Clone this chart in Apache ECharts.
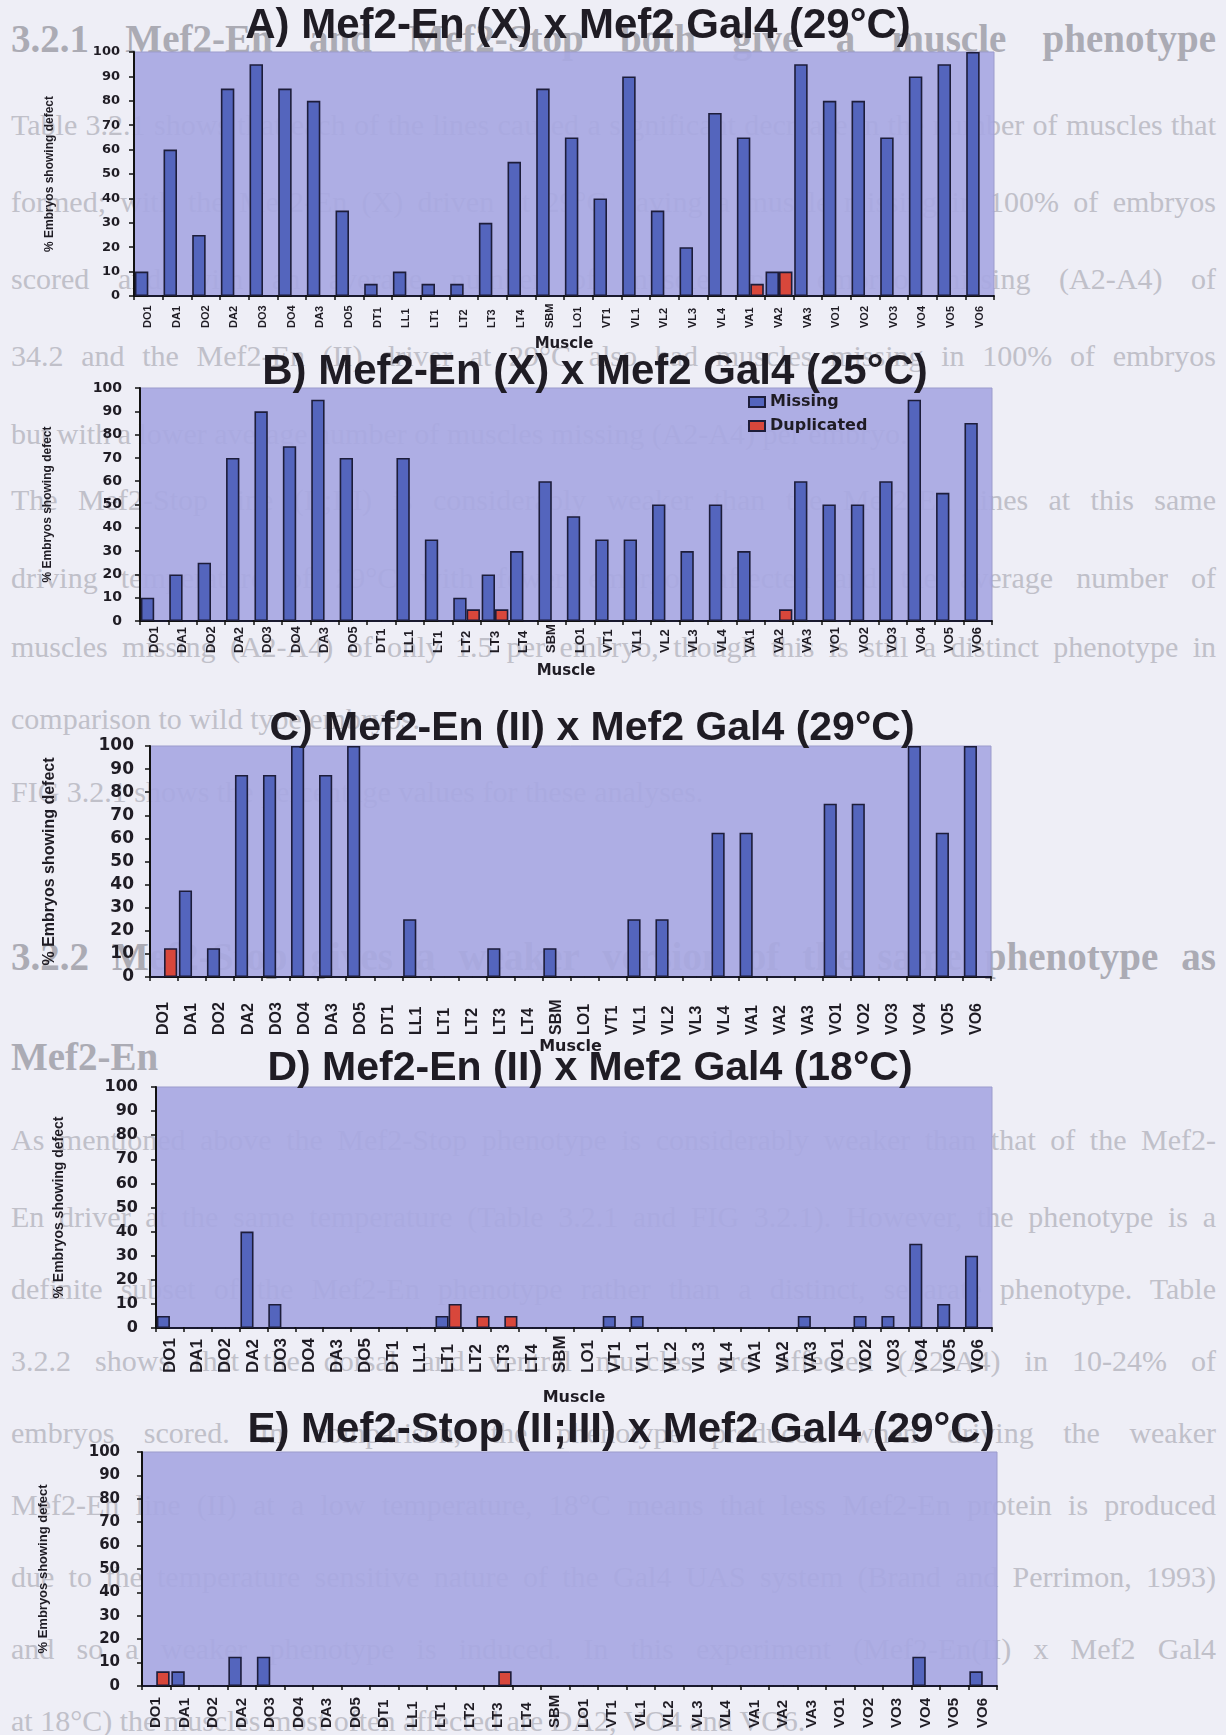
<!DOCTYPE html>
<html>
<head>
<meta charset="utf-8">
<script src="https://cdn.jsdelivr.net/npm/echarts@6/dist/echarts.min.js"></script>
<style>
  html, body { margin: 0; padding: 0; background: #eeeef6; }
  #sheet { position: relative; width: 1226px; height: 1735px; overflow: hidden; }
  #prose { position: absolute; left: 0; top: 0; width: 1226px; height: 1735px; z-index: 0; }
  #prose .ln {
    position: absolute; left: 11px; width: 1205px; height: 36px; line-height: 36px;
    font-family: 'Liberation Serif', 'Times New Roman', serif; font-size: 30px; color: #c0c0c9;
    text-align: left; white-space: nowrap;
  }
  #prose .ln.head { font-weight: bold; font-size: 39px; height: 46px; line-height: 46px; color: #ababb4; }
  #prose .ln span { white-space: nowrap; }
  #page { position: absolute; left: 0; top: 0; width: 1226px; height: 1735px; z-index: 1; }
</style>
</head>
<body>
<div id="sheet">
  <div id="prose"></div>
  <div id="page"></div>
</div>
<script>
// Muscles scored along the x axis of every panel
const muscles = ['DO1','DA1','DO2','DA2','DO3','DO4','DA3','DO5','DT1','LL1','LT1','LT2','LT3','LT4','SBM',
                 'LO1','VT1','VL1','VL2','VL3','VL4','VA1','VA2','VA3','VO1','VO2','VO3','VO4','VO5','VO6'];

// % embryos showing each defect, panel A: Mef2-En (X) x Mef2 Gal4 at 29°C
const missingA = [10,60,25,85,95,85,80,35,5,10,5,5,30,55,85,65,40,90,35,20,75,65,10,95,80,80,65,90,95,100];
const duplicatedA = [0,0,0,0,0,0,0,0,0,0,0,0,0,0,0,0,0,0,0,0,0,5,10,0,0,0,0,0,0,0];

// Panel B: Mef2-En (X) x Mef2 Gal4 at 25°C
const missingB = [10,20,25,70,90,75,95,70,0,70,35,10,20,30,60,45,35,35,50,30,50,30,0,60,50,50,60,95,55,85];
const duplicatedB = [0,0,0,0,0,0,0,0,0,0,0,5,5,0,0,0,0,0,0,0,0,0,5,0,0,0,0,0,0,0];

// Panel C: Mef2-En (II) x Mef2 Gal4 at 29°C
const missingC = [0,37.5,12.5,87.5,87.5,100,87.5,100,0,25,0,0,12.5,0,12.5,0,0,25,25,0,62.5,62.5,0,0,75,75,0,100,62.5,100];
const duplicatedC = [12.5,0,0,0,0,0,0,0,0,0,0,0,0,0,0,0,0,0,0,0,0,0,0,0,0,0,0,0,0,0];

// Panel D: Mef2-En (II) x Mef2 Gal4 at 18°C
const missingD = [5,0,0,40,10,0,0,0,0,0,5,0,0,0,0,0,5,5,0,0,0,0,0,5,0,5,5,35,10,30];
const duplicatedD = [0,0,0,0,0,0,0,0,0,0,10,5,5,0,0,0,0,0,0,0,0,0,0,0,0,0,0,0,0,0];

// Panel E: Mef2-Stop (II;III) x Mef2 Gal4 at 29°C
const missingE = [0,6.25,0,12.5,12.5,0,0,0,0,0,0,0,0,0,0,0,0,0,0,0,0,0,0,0,0,0,0,12.5,0,6.25];
const duplicatedE = [6.25,0,0,0,0,0,0,0,0,0,0,0,6.25,0,0,0,0,0,0,0,0,0,0,0,0,0,0,0,0,0];

const panelTitles = [
  'A) Mef2-En (X) x Mef2 Gal4 (29°C)',
  'B) Mef2-En (X) x Mef2 Gal4 (25°C)',
  'C) Mef2-En (II) x Mef2 Gal4 (29°C)',
  'D) Mef2-En (II) x Mef2 Gal4 (18°C)',
  'E) Mef2-Stop (II;III) x Mef2 Gal4 (29°C)'
];
const yTicks = { min: 0, max: 100, step: 10 };
const yName = '% Embryos showing defect';
const xName = 'Muscle';
const seriesNames = ['Missing', 'Duplicated'];

// Thesis text printed on the page behind the figure
const proseLines = [
  '3.2.1 Mef2-En and Mef2-Stop both give a muscle phenotype',
  'Table 3.2.1 shows that each of the lines caused a significant decrease in the number of muscles that',
  'formed; with the Mef2-En (X) driven at 29°C having a muscle missing in 100% of embryos',
  'scored and with an average number of muscles per embryo missing (A2-A4) of',
  '34.2 and the Mef2-En (II) driver at 29°C also had muscles missing in 100% of embryos',
  'but with a lower average number of muscles missing (A2-A4) per embryo.',
  'The Mef2-Stop line (II;III) is considerably weaker than the Mef2-En lines at this same',
  'driving temperature of 29°C with fewer embryos affected and the average number of',
  'muscles missing (A2-A4) of only 1.5 per embryo, though this is still a distinct phenotype in',
  'comparison to wild type embryos.',
  'FIG 3.2.1 shows the percentage values for these analyses.',
  '3.2.2 Mef2-Stop gives a weaker version of the same phenotype as',
  'Mef2-En',
  'As mentioned above the Mef2-Stop phenotype is considerably weaker than that of the Mef2-',
  'En driver at the same temperature (Table 3.2.1 and FIG 3.2.1). However, the phenotype is a',
  'definite subset of the Mef2-En phenotype rather than a distinct, separate phenotype. Table',
  '3.2.2 shows that the dorsal and ventral muscles are affected (A2-A4) in 10-24% of',
  'embryos scored. In comparison, the phenotype produced when driving the weaker',
  'Mef2-En line (II) at a low temperature, 18°C means that less Mef2-En protein is produced',
  'due to the temperature sensitive nature of the Gal4 UAS system (Brand and Perrimon, 1993)',
  'and so a weaker phenotype is induced. In this experiment (Mef2-En(II) x Mef2 Gal4',
  'at 18°C) the muscles most often affected are DA2, VO4 and VO6.'
];
const proseLineY = [39, 125, 202, 279, 356, 434, 500, 578, 647, 719, 792, 957, 1057,
                    1140, 1217, 1289, 1361, 1433, 1505, 1577, 1649, 1721];
// j = justified line, e = paragraph end, h = justified heading, H = heading end
const proseKind = ['h','j','j','j','j','e','j','j','j','e','e','h','H',
                   'j','j','j','j','j','j','j','j','e'];

const TEXT_WIDTH = 1205;
const prose = document.getElementById('prose');
proseLines.forEach((t, i) => {
  const kind = proseKind[i];
  const d = document.createElement('div');
  d.className = 'ln' + ((kind === 'h' || kind === 'H') ? ' head' : '');
  const s = document.createElement('span');
  s.textContent = t;
  d.appendChild(s);
  prose.appendChild(d);
  const lh = parseFloat(getComputedStyle(d).lineHeight);
  d.style.top = (proseLineY[i] - lh / 2) + 'px';
  let w = s.getBoundingClientRect().width;
  if (w > TEXT_WIDTH) {
    const fs = parseFloat(getComputedStyle(d).fontSize);
    d.style.fontSize = (fs * TEXT_WIDTH / w * 0.99) + 'px';
    w = s.getBoundingClientRect().width;
  }
  if (kind === 'j' || kind === 'h') {
    const gaps = (t.match(/ /g) || []).length;
    if (gaps) s.style.wordSpacing = ((TEXT_WIDTH - w) / gaps) + 'px';
  }
});

const missingSets = [missingA, missingB, missingC, missingD, missingE];
const duplicatedSets = [duplicatedA, duplicatedB, duplicatedC, duplicatedD, duplicatedE];

// Layout of the five stacked panels
const layout = [
  { grid: {left: 134, top: 52,   width: 860, height: 244}, titleX: 578, titleTop: 5,    titleSize: 42,
    yFont: 13, yMargin: 14, yNameFont: 12, yNameGap: 78, xFont: 11, xMargin: 32, xNameGap: 41, xNameFont: 15 },
  { grid: {left: 140, top: 388,  width: 852, height: 233}, titleX: 595, titleTop: 351,  titleSize: 42,
    yFont: 14, yMargin: 18, yNameFont: 12, yNameGap: 86, xFont: 13, xMargin: 32, xNameGap: 43, xNameFont: 15 },
  { grid: {left: 150, top: 746,  width: 841, height: 231}, titleX: 592, titleTop: 708,  titleSize: 41,
    yFont: 17, yMargin: 16, yNameFont: 16, yNameGap: 92, xFont: 16, xMargin: 58, xNameGap: 52, xNameFont: 16 },
  { grid: {left: 156, top: 1087, width: 836, height: 241}, titleX: 590, titleTop: 1048, titleSize: 41,
    yFont: 16, yMargin: 18, yNameFont: 14, yNameGap: 90, xFont: 17, xMargin: 45, xNameGap: 62, xNameFont: 16 },
  { grid: {left: 142, top: 1452, width: 855, height: 234}, titleX: 621, titleTop: 1409, titleSize: 42,
    yFont: 15, yMargin: 22, yNameFont: 13, yNameGap: 92, xFont: 15, xMargin: 42, xNameGap: 60, xNameFont: 16 }
];

const INK = '#1f1c24';
const BAR_BLUE = '#5465bd';
const BAR_RED = '#d8473b';
const BAR_EDGE = '#1d1d3a';

const option = {
  animation: false,
  backgroundColor: 'transparent',
  title: layout.map((p, i) => ({
    text: panelTitles[i],
    left: p.titleX,
    top: p.titleTop,
    textAlign: 'center',
    padding: 0,
    textStyle: { fontFamily: 'Liberation Sans, Arial, sans-serif', fontWeight: 'bold', fontSize: p.titleSize, color: INK }
  })),
  legend: {
    data: seriesNames,
    orient: 'vertical',
    left: 743,
    top: 389,
    itemWidth: 16,
    itemHeight: 10,
    itemGap: 8,
    icon: 'rect',
    textStyle: { fontFamily: 'DejaVu Sans, sans-serif', fontWeight: 'bold', fontSize: 16, color: INK }
  },
  grid: layout.map(p => Object.assign({
    show: true,
    backgroundColor: 'rgba(168,168,226,0.92)',
    borderColor: '#9b9bcc',
    borderWidth: 1,
    containLabel: false
  }, p.grid)),
  xAxis: layout.map((p, i) => ({
    type: 'category',
    gridIndex: i,
    data: muscles,
    name: i === 4 ? '' : xName,
    nameLocation: 'middle',
    nameGap: p.xNameGap,
    nameTextStyle: { fontFamily: 'DejaVu Sans, sans-serif', fontWeight: 'bold', fontSize: p.xNameFont, color: INK },
    axisLine: { lineStyle: { color: '#111', width: 2 } },
    axisTick: { show: true, length: 4, lineStyle: { color: '#111', width: 1.5 } },
    axisLabel: {
      interval: 0,
      rotate: 90,
      align: 'left',
      margin: p.xMargin,
      fontFamily: 'Liberation Sans, Arial, sans-serif',
      fontWeight: 'bold',
      fontSize: p.xFont,
      color: INK
    }
  })),
  yAxis: layout.map((p, i) => ({
    type: 'value',
    gridIndex: i,
    min: yTicks.min,
    max: yTicks.max,
    interval: yTicks.step,
    name: yName,
    nameLocation: 'middle',
    nameGap: p.yNameGap,
    nameTextStyle: { fontFamily: 'Liberation Sans, Arial, sans-serif', fontWeight: 'bold', fontSize: p.yNameFont, color: INK },
    splitLine: { show: false },
    axisLine: { show: true, lineStyle: { color: '#111', width: 2 } },
    axisTick: { show: true, length: 5, lineStyle: { color: '#111', width: 1.5 } },
    axisLabel: {
      margin: p.yMargin,
      fontFamily: 'DejaVu Sans, sans-serif',
      fontWeight: 'bold',
      fontSize: p.yFont,
      color: INK
    }
  })),
  series: []
};

layout.forEach((p, i) => {
  option.series.push({
    name: seriesNames[0],
    type: 'bar',
    xAxisIndex: i,
    yAxisIndex: i,
    data: missingSets[i],
    barGap: '0%',
    barCategoryGap: '6%',
    itemStyle: { color: BAR_BLUE, borderColor: BAR_EDGE, borderWidth: 1.6 }
  });
  option.series.push({
    name: seriesNames[1],
    type: 'bar',
    xAxisIndex: i,
    yAxisIndex: i,
    data: duplicatedSets[i],
    barGap: '0%',
    barCategoryGap: '6%',
    itemStyle: { color: BAR_RED, borderColor: BAR_EDGE, borderWidth: 1.6 }
  });
});

const chart = echarts.init(document.getElementById('page'), null, { renderer: 'canvas', width: 1226, height: 1735 });
chart.setOption(option);
</script>
</body>
</html>
